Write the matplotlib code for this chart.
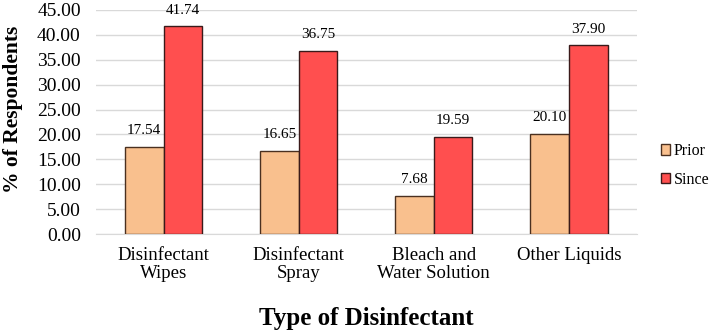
import matplotlib.pyplot as plt
import numpy as np

categories = ["Disinfectant\nWipes", "Disinfectant\nSpray", "Bleach and\nWater Solution", "Other Liquids"]
prior = [17.54, 16.65, 7.68, 20.10]
since = [41.74, 36.75, 19.59, 37.90]
yticks = [0, 5, 10, 15, 20, 25, 30, 35, 40, 45]

plt.rcParams["font.family"] = ["Liberation Serif", "DejaVu Serif"]

fig = plt.figure(figsize=(7.14, 3.33), dpi=100)
ax = fig.add_axes([0.1345, 0.297, 0.757, 0.673])

x = np.arange(len(categories))
w = 0.286
b1 = ax.bar(x - w / 2, prior, w, color="#F9C08E", edgecolor="#4a3020", linewidth=1, label="Prior", zorder=3)
b2 = ax.bar(x + w / 2, since, w, color="#FF4F4F", edgecolor="#3a1a1a", linewidth=1, label="Since", zorder=3)

for bars in (b1, b2):
    for r in bars:
        ax.annotate(f"{r.get_height():.2f}", (r.get_x() + r.get_width() / 2, r.get_height()),
                    xytext=(0, 7), textcoords="offset points", ha="center", va="bottom", fontsize=11)

ax.set_ylim(0, 45)
ax.set_yticks(yticks)
ax.set_yticklabels([f"{v:.2f}" for v in yticks], fontsize=14)
ax.set_xticks(x)
ax.set_xticklabels(categories, fontsize=13.5, linespacing=1.1)
ax.set_xlim(-0.5, len(categories) - 0.5)
ax.tick_params(axis="y", length=0, pad=11)
ax.tick_params(axis="x", length=0, pad=9)
ax.grid(axis="y", color="#d9d9d9", linewidth=1, zorder=0)
for s in ["top", "right", "left"]:
    ax.spines[s].set_visible(False)
ax.spines["bottom"].set_color("#d9d9d9")

fig.text(0.018, 0.673, "% of Respondents", rotation=90, ha="center", va="center",
         fontsize=15.5, fontweight="bold")
fig.text(0.513, 0.045, "Type of Disinfectant", ha="center", va="center", fontsize=18, fontweight="bold")

ax.legend(loc="center left", bbox_to_anchor=(1.03, 0.306), frameon=False, fontsize=11.5,
          borderpad=0, handlelength=0.6, handleheight=0.6, handletextpad=0.2, labelspacing=0.8)

fig.savefig("out.png", dpi=100)
